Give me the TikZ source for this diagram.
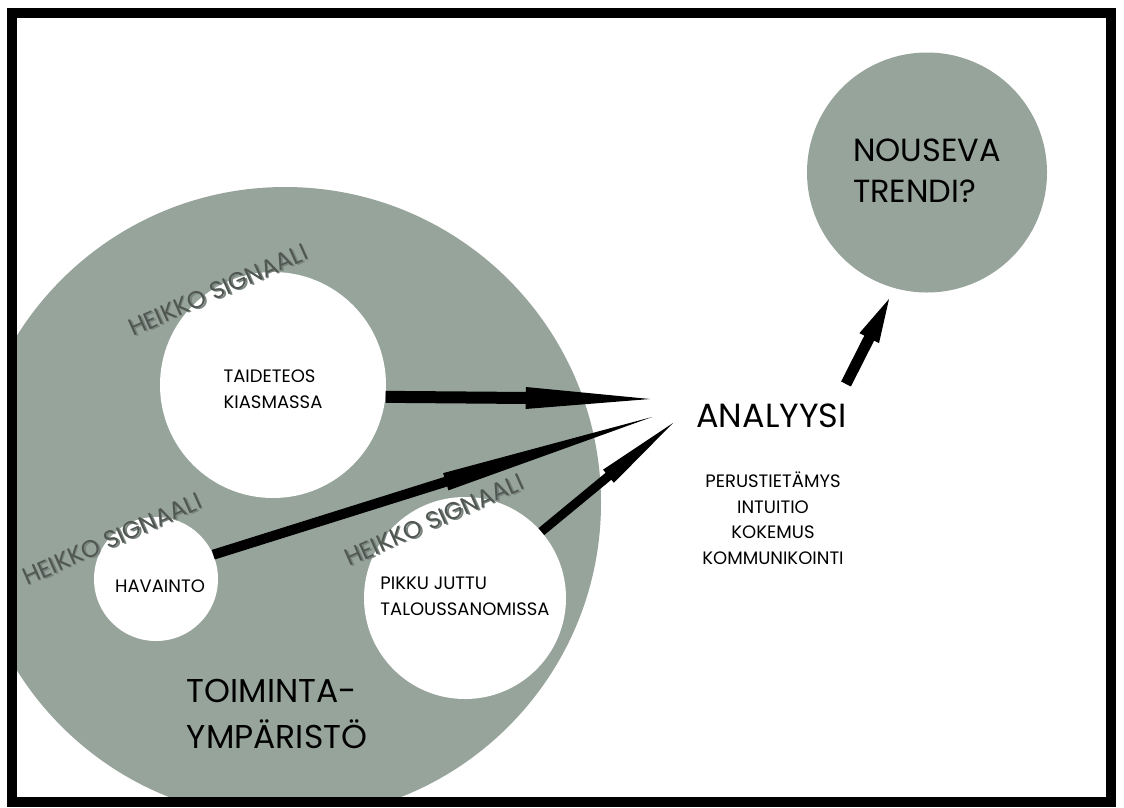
\documentclass[tikz,border=0pt]{standalone}
\usepackage{fontspec}
\setmainfont{Poppins}
\usetikzlibrary{calc}

\definecolor{sage}{HTML}{97A49C}
\definecolor{signaltext}{HTML}{505652}
\definecolor{signalshadow}{HTML}{7A847E}

% tapered arrow: shaft from #1, barb at fraction #3, spike ending at #2;
% #4 = half shaft width, #5 = half head width
\newcommand\spikearrow[5]{%
  \path ($(#1)!#3!(#2)$) coordinate (barb);
  \fill[black] ($(#1)!#4!90:(#2)$) -- ($(barb)!#4!90:(#2)$)
    -- ($(barb)!#5!90:(#2)$) -- (#2) -- ($(barb)!#5!-90:(#2)$)
    -- ($(barb)!#4!-90:(#2)$) -- ($(#1)!#4!-90:(#2)$) -- cycle;}

\begin{document}
\begin{tikzpicture}[x=1pt,y=-1pt,
  disc/.style={circle,fill=white,inner sep=0pt},
  greydisc/.style={circle,fill=sage,inner sep=0pt},
  disctext/.style={align=left,inner sep=0pt,font=\fontsize{18}{26}\selectfont},
  smalltext/.style={font=\fontsize{18}{25.5}\selectfont},
  signal/.style={rotate=24,inner sep=0pt,text=signaltext,
    font=\fontsize{24}{24}\selectfont},
  signalshade/.style={signal,text=signalshadow,xshift=1.2pt,yshift=-1.6pt},
]
\useasboundingbox (0,0) rectangle (1124,807);

\begin{scope}
  \clip (17,18) rectangle (1106,797);
  % environment and trend discs
  \node[greydisc,minimum size=632pt] (env) at (285,503) {};
  \node[greydisc,minimum size=240pt] (trend) at (927,172.5) {};
  \node[disctext,font=\fontsize{32}{41}\selectfont] (trendtext)
    at ([yshift=2pt]trend.center) {NOUSEVA\\TRENDI?};

  % signal sources
  \node[disc,minimum size=226pt] (taide) at (273,385) {};
  \node[disc,minimum size=124pt] (hav) at (156,579) {};
  \node[disc,minimum size=202pt] (pikku) at (465,598) {};
  \node[disctext] (taidetext) at ([yshift=-4.5pt]taide.center) {TAIDETEOS\\KIASMASSA};
  \node[disctext] (havtext) at ([xshift=4pt,yshift=-7.5pt]hav.center) {HAVAINTO};
  \node[disctext] (pikkutext) at ([yshift=2pt]pikku.center) {PIKKU JUTTU\\TALOUSSANOMISSA};

  % weak-signal labels with a soft shadow
  \node[signalshade] at (218,290) {HEIKKO SIGNAALI};
  \node[signal] (sigA) at (218,290) {HEIKKO SIGNAALI};
  \node[signalshade] at (112,539) {HEIKKO SIGNAALI};
  \node[signal] (sigB) at (112,539) {HEIKKO SIGNAALI};
  \node[signalshade] at (434,520) {HEIKKO SIGNAALI};
  \node[signal] (sigC) at (434,520) {HEIKKO SIGNAALI};

  \node[align=left,font=\fontsize{33}{46}\selectfont] (envlabel) at (277,714)
    {TOIMINTA-\\YMPÄRISTÖ};
\end{scope}

% analysis
\node[font=\fontsize{33.5}{33.5}\selectfont] (analyysi) at (771.5,416) {ANALYYSI};
\node[smalltext,align=center] (skills) at (773,518)
  {PERUSTIETÄMYS\\INTUITIO\\KOKEMUS\\KOMMUNIKOINTI};

% arrow end points
\coordinate (t1) at (650,399);
\coordinate (t2) at (652,417);
\coordinate (t3) at (673,423);
\coordinate (s4) at (846,384);
\coordinate (t4) at (889,299);

\spikearrow{taide.-6}{t1}{0.53}{6pt}{11pt}
\spikearrow{hav.23}{t2}{0.53}{5pt}{9pt}
\spikearrow{pikku.41}{t3}{0.51}{4.5pt}{8.5pt}
\spikearrow{s4}{t4}{0.54}{5.5pt}{11pt}

% frame
\draw[line width=10pt] (12,13) rectangle (1111,802);
\end{tikzpicture}
\end{document}
